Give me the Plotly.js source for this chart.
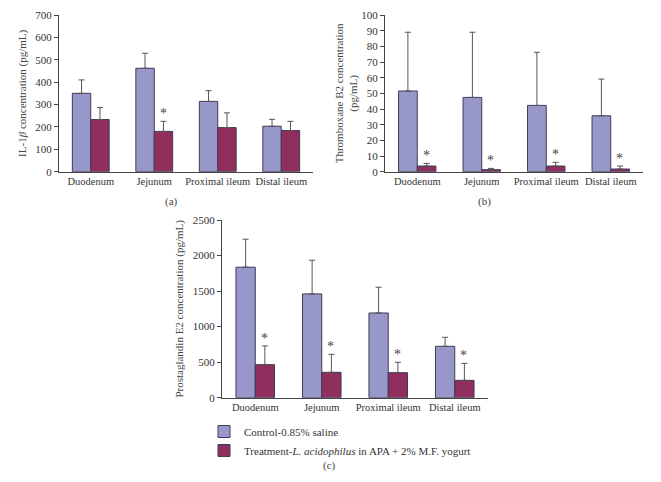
<!DOCTYPE html>
<html>
<head>
<meta charset="utf-8">
<script src="https://cdn.plot.ly/plotly-3.0.1.min.js"></script>
<style>
  html, body { margin: 0; padding: 0; background: #fff; }
  #chart { width: 661px; height: 482px; }
</style>
</head>
<body>
<div id="chart"></div>
<script>
var sites = ['Duodenum', 'Jejunum', 'Proximal ileum', 'Distal ileum'];

// (a) IL-1beta
var il1Control = [350, 462, 314, 203];
var il1ControlErr = [60, 67, 48, 31];
var il1Treat = [233, 180, 197, 184];
var il1TreatErr = [54, 45, 66, 41];
var il1Star = [false, true, false, false];

// (b) Thromboxane B2
var txControl = [51.5, 47.4, 42.3, 35.7];
var txControlErr = [37.5, 41.6, 33.9, 23.4];
var txTreat = [3.6, 1.3, 3.6, 1.7];
var txTreatErr = [1.7, 0.8, 2.4, 1.9];
var txStar = [true, true, true, true];

// (c) Prostaglandin E2
var pgControl = [1836, 1460, 1192, 723];
var pgControlErr = [394, 474, 362, 127];
var pgTreat = [465, 357, 352, 244];
var pgTreatErr = [263, 253, 146, 239];
var pgStar = [true, true, true, true];

var controlColor = '#9897c9';
var treatColor = '#902e5e';
var edge = '#3c3c58';

function barTrace(y, err, color, name, xa, ya, legend) {
    return {
        type: 'bar',
        x: sites,
        y: y,
        name: name,
        xaxis: xa,
        yaxis: ya,
        showlegend: legend,
        marker: {color: color, line: {color: edge, width: 1}},
        error_y: {
            type: 'data', symmetric: false, array: err,
            arrayminus: err.map(function () { return 0; }),
            color: '#555', thickness: 1, width: 3
        }
    };
}

var ctrlName = 'Control-0.85% saline';
var treatName = 'Treatment-<i>L. acidophilus</i> in APA + 2% M.F. yogurt';

var data = [
    barTrace(il1Control, il1ControlErr, controlColor, ctrlName, 'x', 'y', true),
    barTrace(il1Treat, il1TreatErr, treatColor, treatName, 'x', 'y', true),
    barTrace(txControl, txControlErr, controlColor, ctrlName, 'x2', 'y2', false),
    barTrace(txTreat, txTreatErr, treatColor, treatName, 'x2', 'y2', false),
    barTrace(pgControl, pgControlErr, controlColor, ctrlName, 'x3', 'y3', false),
    barTrace(pgTreat, pgTreatErr, treatColor, treatName, 'x3', 'y3', false)
];

var annotations = [];
function stars(flags, vals, errs, xref, yref) {
    flags.forEach(function (f, i) {
        if (!f) return;
        annotations.push({
            x: sites[i], y: vals[i] + errs[i], xref: xref, yref: yref,
            text: '*', showarrow: false, xshift: 9, yanchor: 'bottom', yshift: -2,
            font: {size: 14, color: '#444'}
        });
    });
}
stars(il1Star, il1Treat, il1TreatErr, 'x', 'y');
stars(txStar, txTreat, txTreatErr, 'x2', 'y2');
stars(pgStar, pgTreat, pgTreatErr, 'x3', 'y3');

[['(a)', 0.247, 1 - 201 / 482], ['(b)', 0.746, 1 - 201 / 482], ['(c)', 0.499, 1 - 474 / 482]].forEach(function (p) {
    annotations.push({
        text: p[0], x: p[1], y: p[2], xref: 'paper', yref: 'paper',
        showarrow: false, font: {size: 11, color: '#444'}
    });
});

function xax(domain, anchor) {
    return {
        domain: domain, anchor: anchor, showline: true, linecolor: '#444', linewidth: 1,
        ticks: '', tickangle: 0, showgrid: false, zeroline: false,
        tickfont: {size: 10.5, color: '#333'}
    };
}
function yax(domain, anchor, range, dtick, title, standoff) {
    return {
        domain: domain, anchor: anchor, range: range, dtick: dtick,
        showline: true, linecolor: '#444', linewidth: 1,
        ticks: 'outside', ticklen: 4, tickcolor: '#444',
        showgrid: false, zeroline: false,
        tickfont: {size: 11, color: '#333'},
        title: {text: title, font: {size: 11, color: '#444'}, standoff: standoff}
    };
}

var layout = {
    width: 661,
    height: 482,
    margin: {l: 0, r: 0, t: 0, b: 0},
    paper_bgcolor: '#fff',
    plot_bgcolor: '#fff',
    font: {family: 'Liberation Serif, serif', size: 11, color: '#333'},
    barmode: 'group',
    bargap: 0.42,
    bargroupgap: 0,
    xaxis: xax([59 / 661, 313 / 661], 'y'),
    yaxis: yax([1 - 171.7 / 482, 1 - 15 / 482], 'x', [0, 700], 100,
        'IL-1<i>β</i> concentration (pg/mL)', 6),
    xaxis2: xax([385 / 661, 643 / 661], 'y2'),
    yaxis2: yax([1 - 171.7 / 482, 1 - 15 / 482], 'x2', [0, 100], 10,
        'Thromboxane B2 concentration<br>(pg/mL)', 1),
    xaxis3: xax([222 / 661, 488 / 661], 'y3'),
    yaxis3: yax([1 - 397.7 / 482, 1 - 220 / 482], 'x3', [0, 2500], 500,
        'Prostaglandin E2 concentration (pg/mL)', 6),
    legend: {
        x: 204 / 661, y: 1 - 417 / 482, xanchor: 'left', yanchor: 'top',
        bgcolor: 'rgba(0,0,0,0)', font: {size: 11, color: '#333'},
        tracegroupgap: 0, itemwidth: 30
    },
    annotations: annotations
};

Plotly.newPlot('chart', data, layout, {displayModeBar: false, staticPlot: true});
</script>
</body>
</html>
